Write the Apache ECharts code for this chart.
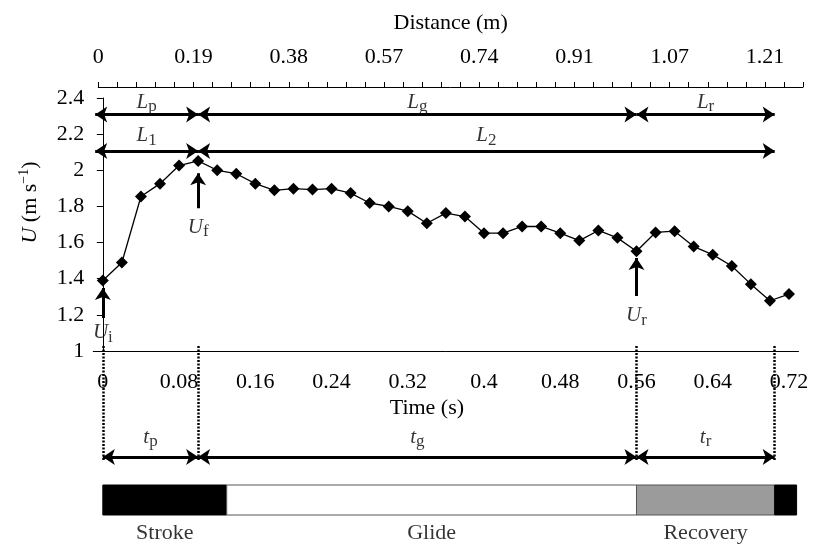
<!DOCTYPE html>
<html><head><meta charset="utf-8">
<script src="https://cdn.jsdelivr.net/npm/echarts@6/dist/echarts.min.js"></script>
<style>html,body{margin:0;padding:0;background:#fff}#c{width:819px;height:546px}</style>
</head><body><div id="c"></div>
<script>
// ---- data ----
const times = [0, 0.02, 0.04, 0.06, 0.08, 0.1, 0.12, 0.14, 0.16, 0.18, 0.2, 0.22, 0.24, 0.26, 0.28, 0.3, 0.32, 0.34, 0.36, 0.38, 0.4, 0.42, 0.44, 0.46, 0.48, 0.5, 0.52, 0.54, 0.56, 0.58, 0.6, 0.62, 0.64, 0.66, 0.68, 0.7, 0.72];
const speed = [1.39, 1.49, 1.855, 1.926, 2.026, 2.052, 2.0, 1.981, 1.926, 1.889, 1.898, 1.893, 1.898, 1.874, 1.819, 1.8, 1.774, 1.707, 1.763, 1.744, 1.652, 1.652, 1.689, 1.689, 1.652, 1.611, 1.667, 1.626, 1.552, 1.656, 1.663, 1.578, 1.533, 1.47, 1.37, 1.278, 1.315];
const distanceTickLabels = ['0', '0.19', '0.38', '0.57', '0.74', '0.91', '1.07', '1.21'];
const distanceTickCount = 38;
// key instants (s)
const keyTimes = [0, 0.1, 0.56, 0.705];
const distStart = -0.008;
// phases
const phaseNames = ['Stroke', 'Glide', 'Recovery', ''];
const phaseStart = [0, 0.13, 0.56, 0.705];
const phaseEnd = [0.13, 0.56, 0.705, 0.728];
const phaseColors = ['#000000', '#ffffff', '#9b9b9b', '#000000'];
// speed markers (arrows): time, tail U, tip U, label U, label
const uArrowTime = [0, 0.1, 0.56];
const uArrowTail = [1.182, 1.79, 1.304];
const uArrowTip = [1.348, 1.983, 1.514];
const uLabelU = [1.10, 1.685, 1.195];
const uLabelSub = ['i', 'f', 'r'];

// ---- build ----
const FONT = 'Liberation Serif';
const timeCats = times.map(String);
const distCats = [];
for (let i = 0; i < distanceTickCount; i++) distCats.push(i % 5 === 0 && distanceTickLabels[i / 5] !== undefined ? distanceTickLabels[i / 5] : '');

const ROW_L_TOP = 2.309, ROW_L_LOW = 2.107;
const LAB_L_TOP = 2.375, LAB_L_LOW = 2.19;

const arrowsMain = [
  {coords: [[distStart, ROW_L_TOP], [keyTimes[1], ROW_L_TOP]]},
  {coords: [[keyTimes[1], ROW_L_TOP], [keyTimes[2], ROW_L_TOP]]},
  {coords: [[keyTimes[2], ROW_L_TOP], [keyTimes[3], ROW_L_TOP]]},
  {coords: [[distStart, ROW_L_LOW], [keyTimes[1], ROW_L_LOW]]},
  {coords: [[keyTimes[1], ROW_L_LOW], [keyTimes[3], ROW_L_LOW]]}
];
const uArrows = uArrowTime.map((t, i) => ({coords: [[t, uArrowTail[i]], [t, uArrowTip[i]]]}));

const mid = (a, b) => (a + b) / 2;
const mainTexts = [
  [mid(distStart, keyTimes[1]), LAB_L_TOP, '{it|L}{sub|p}'],
  [mid(keyTimes[1], keyTimes[2]), LAB_L_TOP, '{it|L}{sub|g}'],
  [mid(keyTimes[2], keyTimes[3]), LAB_L_TOP, '{it|L}{sub|r}'],
  [mid(distStart, keyTimes[1]), LAB_L_LOW, '{it|L}{sub|1}'],
  [mid(keyTimes[1], keyTimes[3]), LAB_L_LOW, '{it|L}{sub|2}']
].concat(uArrowTime.map((t, i) => [t, uLabelU[i], '{it|U}{sub|' + uLabelSub[i] + '}']));

// bottom panel rows (px-like units from panel top)
const ROW_DOT0 = 6, ROW_DOT1 = 120, ROW_T = 117, ROW_TLAB = 97, BAR0 = 145, BAR1 = 175, ROW_PLAB = 193;
const dotted = keyTimes.map(t => ({coords: [[t, ROW_DOT0], [t, ROW_DOT1]]}));
const tArrows = [
  {coords: [[keyTimes[0], ROW_T], [keyTimes[1], ROW_T]]},
  {coords: [[keyTimes[1], ROW_T], [keyTimes[2], ROW_T]]},
  {coords: [[keyTimes[2], ROW_T], [keyTimes[3], ROW_T]]}
];
const tTexts = [
  [mid(keyTimes[0], keyTimes[1]), ROW_TLAB, '{it|t}{sub|p}'],
  [mid(keyTimes[1], keyTimes[2]), ROW_TLAB, '{it|t}{sub|g}'],
  [mid(keyTimes[2], keyTimes[3]), ROW_TLAB, '{it|t}{sub|r}']
];
const phaseTexts = phaseNames.map((n, i) => [mid(phaseStart[i], phaseEnd[i]), ROW_PLAB, n]).filter(d => d[2]);

const rich = {
  it: {fontFamily: FONT, fontStyle: 'italic', fontSize: 21, lineHeight: 26, color: '#000'},
  sub: {fontFamily: FONT, fontSize: 17, lineHeight: 16, verticalAlign: 'bottom', color: '#000'}
};
const axisCol = {color: '#000', width: 1};
const lbl = {fontFamily: FONT, fontSize: 22, color: '#000'};

const textSeries = (xi, yi, data, r) => ({
  type: 'scatter', xAxisIndex: xi, yAxisIndex: yi, symbolSize: 1, silent: true, z: 5,
  itemStyle: {color: 'rgba(0,0,0,0)'},
  data: data,
  label: {show: true, position: 'inside', formatter: p => p.data[2], fontFamily: FONT, fontSize: 22, color: '#000', rich: r}
});
const arrowSeries = (xi, yi, data, sym, size) => ({
  type: 'lines', coordinateSystem: 'cartesian2d', xAxisIndex: xi, yAxisIndex: yi, silent: true, z: 4,
  symbol: sym, symbolSize: size,
  lineStyle: {color: '#000', width: 3, opacity: 1, curveness: 0},
  itemStyle: {color: '#000'},
  data: data
});

const option = {
  animation: false,
  backgroundColor: '#fff',
  textStyle: {fontFamily: FONT, color: '#000'},
  grid: [
    {left: 93.3, width: 705.2, top: 98, height: 253},
    {left: 93.3, width: 705.2, top: 340, height: 206},
    {left: 98.3, width: 704.7, top: 86, height: 1}
  ],
  xAxis: [
    {type: 'category', gridIndex: 0, data: timeCats, boundaryGap: true, position: 'bottom',
     axisLine: {lineStyle: axisCol}, axisTick: {interval: 0, length: 5, lineStyle: axisCol},
     axisLabel: Object.assign({interval: 3, margin: 20}, lbl),
     name: 'Time (s)', nameLocation: 'middle', nameGap: 46,
     nameTextStyle: Object.assign({padding: [0, 38, 0, 0]}, lbl)},
    {type: 'value', gridIndex: 0, min: -0.01, max: 0.73, show: false},
    {type: 'value', gridIndex: 1, min: -0.01, max: 0.73, show: false},
    {type: 'category', gridIndex: 2, data: distCats, boundaryGap: false, position: 'top',
     axisLine: {lineStyle: axisCol}, axisTick: {interval: 0, length: 5, lineStyle: axisCol},
     axisLabel: Object.assign({interval: 0, margin: 18}, lbl),
     name: 'Distance (m)', nameLocation: 'middle', nameGap: 52, nameTextStyle: lbl}
  ],
  yAxis: [
    {type: 'value', gridIndex: 0, min: 1, max: 2.4, interval: 0.2,
     axisLine: {show: true, lineStyle: axisCol}, axisTick: {show: true, length: 6, lineStyle: axisCol},
     splitLine: {show: false},
     axisLabel: Object.assign({margin: 9}, lbl),
     name: '{it|U} (m s{sup|\u22121})', nameLocation: 'middle', nameGap: 50,
     nameTextStyle: Object.assign({padding: [0, 0, 0, 44], rich: {
       it: {fontFamily: FONT, fontStyle: 'italic', fontSize: 22, lineHeight: 26, color: '#000'},
       sup: {fontFamily: FONT, fontSize: 14, lineHeight: 14, verticalAlign: 'top', color: '#000'}
     }}, lbl)},
    {type: 'value', gridIndex: 1, min: 0, max: 206, inverse: true, show: false},
    {type: 'value', gridIndex: 2, min: 0, max: 1, show: false}
  ],
  series: [
    {type: 'line', xAxisIndex: 1, yAxisIndex: 0, data: times.map((t, i) => [t, speed[i]]),
     symbol: 'diamond', symbolSize: 12, showSymbol: true,
     lineStyle: {color: '#000', width: 1.3}, itemStyle: {color: '#000'}, z: 3},
    arrowSeries(1, 0, arrowsMain, ['arrow', 'arrow'], 12),
    arrowSeries(1, 0, uArrows, ['none', 'arrow'], 12),
    textSeries(1, 0, mainTexts, rich),
    {type: 'lines', coordinateSystem: 'cartesian2d', xAxisIndex: 2, yAxisIndex: 1, silent: true,
     symbol: ['none', 'none'], lineStyle: {color: '#000', width: 2.5, opacity: 1, type: [2, 1.5]}, data: dotted},
    arrowSeries(2, 1, tArrows, ['arrow', 'arrow'], 12),
    textSeries(2, 1, tTexts, rich),
    {type: 'custom', xAxisIndex: 2, yAxisIndex: 1, silent: true,
     data: phaseStart.map((s, i) => [s, phaseEnd[i], i]),
     renderItem: (params, api) => {
       const i = api.value(2);
       const p0 = api.coord([api.value(0), BAR0]);
       const p1 = api.coord([api.value(1), BAR1]);
       return {type: 'rect', shape: {x: p0[0], y: p0[1], width: p1[0] - p0[0], height: p1[1] - p0[1]},
         style: {fill: phaseColors[i], stroke: i === 1 || i === 2 ? '#555' : phaseColors[i], lineWidth: 1}};
     }},
    textSeries(2, 1, phaseTexts, rich)
  ]
};
const chart = echarts.init(document.getElementById('c'), null, {renderer: 'canvas'});
chart.setOption(option);
</script>
</body></html>
